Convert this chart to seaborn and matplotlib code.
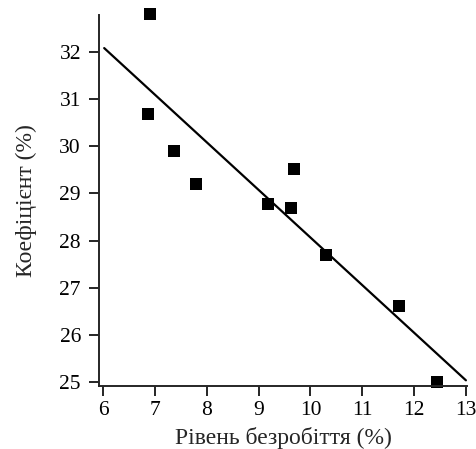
import matplotlib
matplotlib.use("Agg")
import matplotlib.pyplot as plt
import seaborn as sns
import pandas as pd

# Data
unemployment = [6.90, 6.86, 7.36, 7.79, 9.19, 9.62, 9.68, 10.30, 11.70, 12.45]
coefficient = [32.80, 30.68, 29.90, 29.20, 28.77, 28.70, 29.52, 27.69, 26.61, 25.00]
x_ticks = [6, 7, 8, 9, 10, 11, 12, 13]
y_ticks = [25, 26, 27, 28, 29, 30, 31, 32]

df = pd.DataFrame({"x": unemployment, "y": coefficient})

sns.set_style("ticks")
plt.rcParams["font.family"] = ["Liberation Serif", "DejaVu Serif"]
plt.rcParams.update({
    "font.size": 16,
    "axes.linewidth": 1.4,
    "xtick.major.width": 1.2,
    "ytick.major.width": 1.2,
    "xtick.major.size": 7,
    "ytick.major.size": 7,
})

fig = plt.figure(figsize=(4.76, 4.49), dpi=100)
ax = fig.add_axes([0.208, 0.140, 0.773, 0.827])

# fit line spans this range (regplot extends to current xlim)
ax.set_xlim(6.02, 13.0)
sns.regplot(data=df, x="x", y="y", ax=ax, ci=None, truncate=False,
            marker="s", color="black",
            scatter_kws={"s": 70, "clip_on": False, "linewidths": 0, "alpha": 1},
            line_kws={"linewidth": 1.6})

ax.set_xlim(5.92, 13.02)
ax.set_ylim(24.91, 32.79)
ax.set_xticks(x_ticks)
ax.set_yticks(y_ticks)
ax.tick_params(colors="black", labelsize=15.5)
ax.tick_params(axis="y", pad=6)
ax.tick_params(axis="x", pad=4)
ax.set_xlabel("Рівень безробіття (%)", fontsize=17, labelpad=5)
ax.set_ylabel("Коефіцієнт (%)", fontsize=17, labelpad=16)
sns.despine(ax=ax)

fig.savefig("out.png", dpi=100)
